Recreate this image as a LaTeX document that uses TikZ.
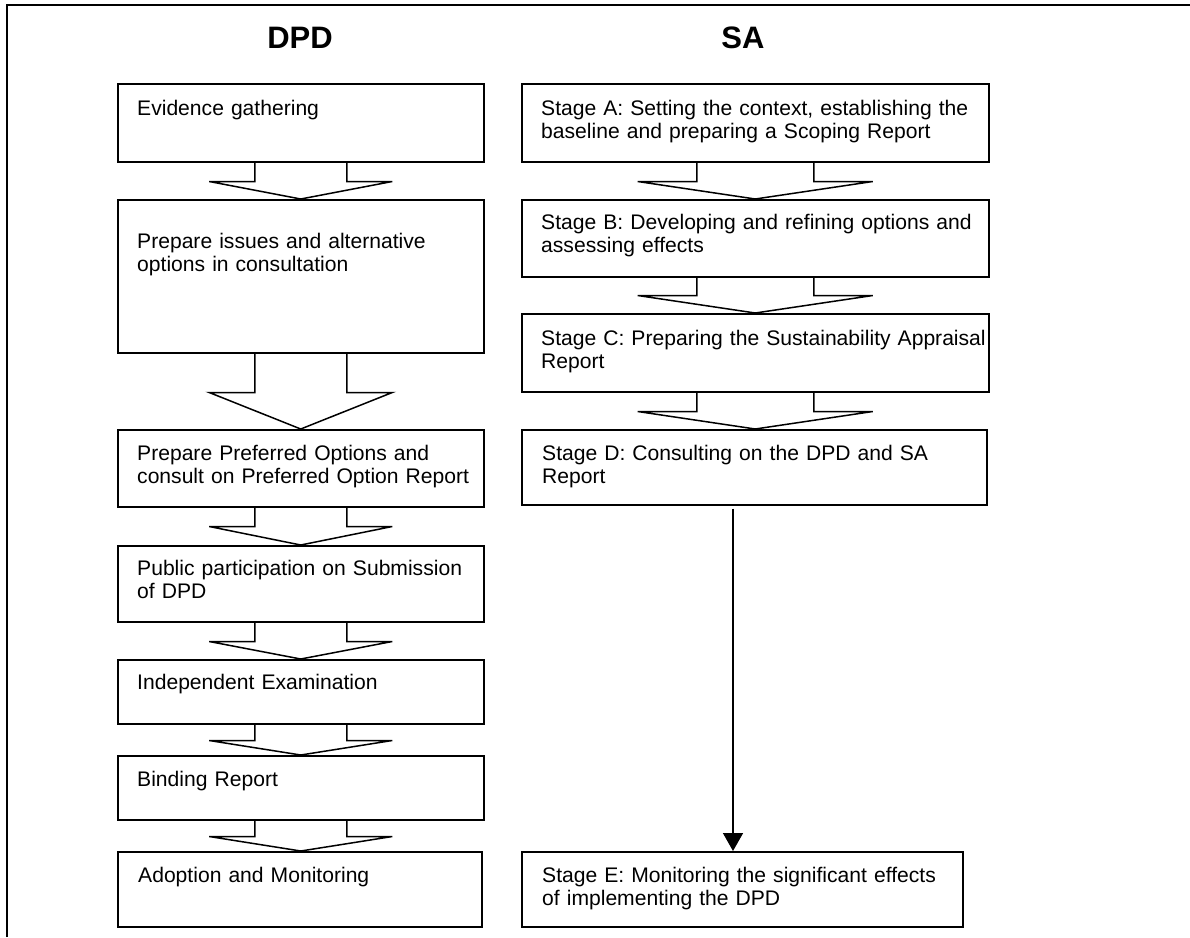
\documentclass[tikz,border=0pt]{standalone}
\usepackage{fontspec}
\setmainfont{Liberation Sans}
\usetikzlibrary{calc,arrows.meta}
\tikzset{
  box/.style={draw, line width=1.5pt, rectangle, anchor=north west, inner sep=0pt},
  txt/.style={anchor=base west, inner sep=0pt, align=left, text width=470pt,
              font=\fontsize{21.1}{23.5}\selectfont},
  ttl/.style={anchor=base, inner sep=0pt, font=\fontsize{31}{36}\selectfont\bfseries},
  barrow/.style={line width=1.5pt, line join=miter},
  vline/.style={line width=1.5pt, -{Triangle[length=18pt,width=20pt]}},
  framel/.style={line width=2.2pt}
}
\newcommand{\flowarrow}[5]{%
  \draw[barrow] ($(#1.south)+(-#3,0)$) -- ($(#1.south)+(-#3,#5)$) -- ($(#1.south)+(-#4,#5)$)
    -- (#1.south |- #2.north) -- ($(#1.south)+(#4,#5)$) -- ($(#1.south)+(#3,#5)$) -- ($(#1.south)+(#3,0)$);}
\begin{document}
\begin{tikzpicture}[x=1pt,y=-1pt]
\useasboundingbox (0,0) rectangle (1190,937);
% frame
\coordinate (fbl) at (7,937);
\coordinate (ftl) at (7,5);
\coordinate (ftr) at (1190,5);
\draw[framel] (fbl) -- (ftl) -- (ftr);
% titles
\node[ttl] (tdpd) at (300,48) {DPD};
\node[ttl] (tsa) at (743,48) {SA};
% DPD boxes
\node[box, minimum width=366pt, minimum height=78pt] (d1) at (117,83) {};
\node[box, minimum width=366pt, minimum height=153pt] (d2) at (117,199) {};
\node[box, minimum width=366pt, minimum height=77pt] (d3) at (117,429) {};
\node[box, minimum width=366pt, minimum height=76pt] (d4) at (117,545) {};
\node[box, minimum width=366pt, minimum height=64pt] (d5) at (117,659) {};
\node[box, minimum width=366pt, minimum height=64pt] (d6) at (117,755) {};
\node[box, minimum width=364pt, minimum height=75pt] (d7) at (117,851) {};
\node[txt] (l1) at ($(d1.north west)+(20,32)$) {Evidence gathering};
\node[txt] (l2) at ($(d2.north west)+(20,49)$) {Prepare issues and alternative\\options in consultation};
\node[txt] (l3) at ($(d3.north west)+(20,31)$) {Prepare Preferred Options and\\consult on Preferred Option Report};
\node[txt] (l4) at ($(d4.north west)+(20,30)$) {Public participation on Submission\\of DPD};
\node[txt] (l5) at ($(d5.north west)+(20,30)$) {Independent Examination};
\node[txt] (l6) at ($(d6.north west)+(20,31)$) {Binding Report};
\node[txt] (l7) at ($(d7.north west)+(21,31)$) {Adoption and Monitoring};
% SA boxes
\node[box, minimum width=467pt, minimum height=78pt] (s1) at (521,83) {};
\node[box, minimum width=467pt, minimum height=77pt] (s2) at (521,199) {};
\node[box, minimum width=467pt, minimum height=78pt] (s3) at (521,313) {};
\node[box, minimum width=465pt, minimum height=75pt] (s4) at (521,429) {};
\node[box, minimum width=441pt, minimum height=75pt] (s5) at (521,851) {};
\node[txt] (r1) at ($(s1.north west)+(20,32)$) {Stage A: Setting the context, establishing the\\baseline and preparing a Scoping Report};
\node[txt] (r2) at ($(s2.north west)+(20,30)$) {Stage B: Developing and refining options and\\assessing effects};
\node[txt] (r3) at ($(s3.north west)+(20,32)$) {Stage C: Preparing the Sustainability Appraisal\\Report};
\node[txt] (r4) at ($(s4.north west)+(21,31)$) {Stage D: Consulting on the DPD and SA\\Report};
\node[txt] (r5) at ($(s5.north west)+(21,31)$) {Stage E: Monitoring the significant effects\\of implementing the DPD};
% block arrows DPD
\flowarrow{d1}{d2}{46}{91.5}{19}
\flowarrow{d2}{d3}{46}{91.5}{39}
\flowarrow{d3}{d4}{46}{91.5}{19}
\flowarrow{d4}{d5}{46}{91.5}{19}
\flowarrow{d5}{d6}{46}{91.5}{16}
\flowarrow{d6}{d7}{46}{91.5}{16}
% block arrows SA
\flowarrow{s1}{s2}{58.5}{117.5}{19}
\flowarrow{s2}{s3}{58.5}{117.5}{18}
\flowarrow{s3}{s4}{58.5}{117.5}{19}
% vertical arrow D -> E
\coordinate (vx) at (733,0);
\draw[vline, shorten <=3pt] (s4.south -| vx) -- (s5.north -| vx);
\end{tikzpicture}
\end{document}
